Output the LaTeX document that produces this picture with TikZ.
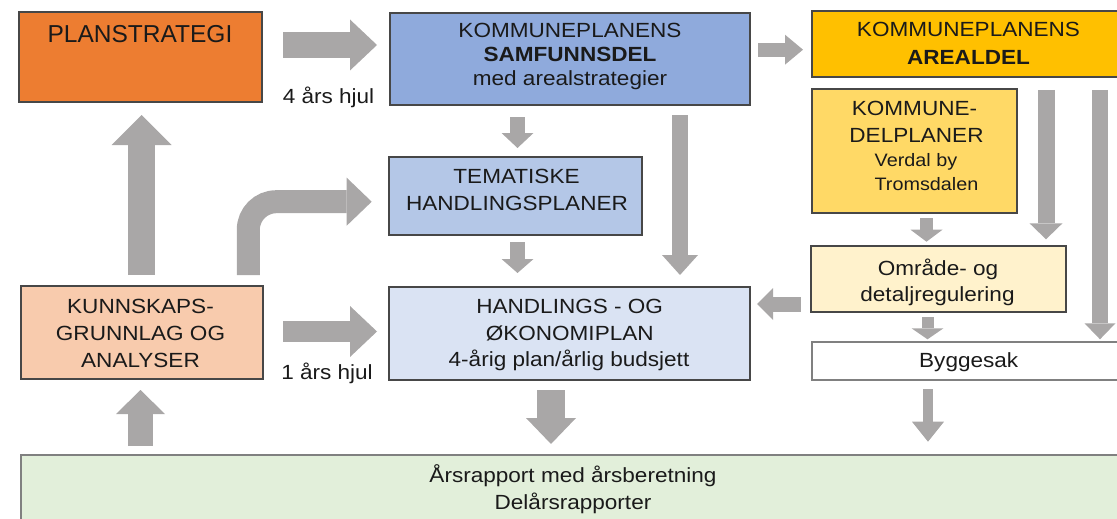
\documentclass[tikz,border=0pt]{standalone}
\usepackage{fontspec}
\setmainfont{Liberation Sans}
\newfontfamily\wfont[FakeStretch=1.1]{Liberation Sans}
\usetikzlibrary{arrows.meta,calc}
\definecolor{arrowgray}{HTML}{A9A7A7}
\definecolor{cplan}{HTML}{ED7D31}
\definecolor{csamf}{HTML}{8FAADC}
\definecolor{ctema}{HTML}{B4C7E7}
\definecolor{chandl}{HTML}{DAE3F3}
\definecolor{ckunn}{HTML}{F8CBAD}
\definecolor{careal}{HTML}{FFC000}
\definecolor{cdelpl}{HTML}{FFD966}
\definecolor{comr}{HTML}{FFF2CC}
\definecolor{cgreen}{HTML}{E2EFDA}
\definecolor{ctext}{HTML}{1A1A1A}
\begin{document}
\begin{tikzpicture}[x=1pt,y=-1pt,
  boxst/.style={draw=black!72, line width=1.1pt, inner sep=0pt, outer sep=0pt},
  lboxst/.style={draw=black!50, line width=1.1pt, inner sep=0pt, outer sep=0pt},
  txt/.style={inner sep=0pt, anchor=base, text=ctext, font=\wfont\fontsize{20.5}{24}\selectfont},
  btxt/.style={txt, font=\wfont\bfseries\fontsize{20.5}{24}\selectfont},
  stxt/.style={txt, font=\wfont\fontsize{18}{22}\selectfont},
  barrow/.style n args={3}{line width=#1pt, arrowgray, -{Triangle[width=#2pt, length=#3pt, line width=0pt]}}
]
\useasboundingbox (0,0) rectangle (1117,519);

% boxes
\node[boxst, fill=cplan, minimum width=243pt, minimum height=90pt] (plan) at (140.5,57) {};
\node[boxst, fill=csamf, minimum width=360pt, minimum height=92pt] (samf) at (570,59) {};
\node[boxst, fill=careal, minimum width=313pt, minimum height=66pt] (areal) at (968.5,44) {};
\node[boxst, fill=cdelpl, minimum width=205pt, minimum height=124pt] (delpl) at (914.5,151) {};
\node[boxst, fill=comr, minimum width=255pt, minimum height=66pt] (omr) at (938.5,279) {};
\node[lboxst, fill=white, minimum width=313pt, minimum height=38pt] (bygg) at (968.5,361) {};
\node[boxst, fill=ctema, minimum width=253pt, minimum height=78pt] (tema) at (515.5,196) {};
\node[boxst, fill=chandl, minimum width=361pt, minimum height=93pt] (handl) at (569.5,333.5) {};
\node[boxst, fill=ckunn, minimum width=242pt, minimum height=93pt] (kunn) at (142,332.5) {};
\node[lboxst, fill=cgreen, minimum width=1104pt, minimum height=80pt] (green) at (573,495) {};

% texts
\node[txt, font=\fontsize{24.5}{28}\selectfont] (tplan) at (140,42.3) {PLANSTRATEGI};
\node[txt] (tsamf1) at (570,37.7) {KOMMUNEPLANENS};
\node[btxt] (tsamf2) at (570,61.7) {SAMFUNNSDEL};
\node[txt] (tsamf3) at (570,85) {med arealstrategier};
\node[txt] (tareal1) at (968.5,36.7) {KOMMUNEPLANENS};
\node[btxt] (tareal2) at (968.5,64.3) {AREALDEL};
\node[txt] (tdel1) at (914.5,115) {KOMMUNE-};
\node[txt] (tdel2) at (916.5,142.7) {DELPLANER};
\node[stxt] (tdel3) at (916,166.7) {Verdal by};
\node[stxt] (tdel4) at (926.5,190.7) {Tromsdalen};
\node[txt] (tomr1) at (938,275) {Område- og};
\node[txt] (tomr2) at (937.5,301.7) {detaljregulering};
\node[txt] (tbygg) at (968.7,367.3) {Byggesak};
\node[txt] (ttema1) at (516.5,183.3) {TEMATISKE};
\node[txt] (ttema2) at (517,210) {HANDLINGSPLANER};
\node[txt] (thandl1) at (569.7,313.3) {HANDLINGS - OG};
\node[txt] (thandl2) at (569.7,340.7) {ØKONOMIPLAN};
\node[txt] (thandl3) at (569,366) {4-årig plan/årlig budsjett};
\node[txt] (tkunn1) at (140.5,313.3) {KUNNSKAPS-};
\node[txt] (tkunn2) at (140.5,340) {GRUNNLAG OG};
\node[txt] (tkunn3) at (140.5,367.3) {ANALYSER};
\node[txt] (tgreen1) at (573,482.7) {Årsrapport med årsberetning};
\node[txt] (tgreen2) at (573,509.3) {Delårsrapporter};
\node[txt] (thjul4) at (328.5,103.3) {4 års hjul};
\node[txt] (thjul1) at (327,379.3) {1 års hjul};

% arrows
\coordinate (c1) at ([yshift=12]plan.east);
\draw[barrow={26}{51}{27}, shorten <=21pt, shorten >=13pt] (c1) -- (c1 -| samf.west);
\coordinate (c2) at ([yshift=9.3]samf.east);
\draw[barrow={14}{30}{18}, shorten <=8pt, shorten >=9pt] (c2) -- (c2 -| areal.west);
\coordinate (c3) at ([xshift=-52.5]samf.south);
\draw[barrow={15}{32}{15}, shorten <=12pt, shorten >=9pt] (c3) -- (c3 |- tema.north);
\coordinate (c4) at ([xshift=2]tema.south);
\draw[barrow={15}{32}{14}, shorten <=7pt, shorten >=14pt] (c4) -- (c4 |- handl.north);
\coordinate (c5) at ([xshift=110]samf.south);
\draw[barrow={16}{36}{20}, shorten <=10pt, shorten >=12pt] (c5) -- (c5 |- handl.north);
\coordinate (c6) at ([xshift=-0.5]kunn.north);
\draw[barrow={27}{60}{30}, shorten <=11pt, shorten >=13pt] (c6) -- (c6 |- plan.south);
\coordinate (c7) at ([xshift=106.3]kunn.north);
\coordinate (c7b) at ([yshift=-5.7]tema.west);
\draw[barrow={23}{48}{25}, rounded corners=28pt, shorten <=11pt, shorten >=17.3pt] (c7) |- (c7b);
\coordinate (c8) at ([yshift=1]kunn.east);
\draw[barrow={21}{51}{27}, shorten <=20pt, shorten >=12pt] (c8) -- (c8 -| handl.west);
\coordinate (c9) at ([xshift=-1.5]kunn.south);
\draw[barrow={25}{49}{24}, shorten <=9pt, shorten >=11pt] (c9 |- green.north) -- (c9);
\coordinate (c10) at ([xshift=-18.5]handl.south);
\draw[barrow={28}{50}{26}, shorten <=10pt, shorten >=11pt] (c10) -- (c10 |- green.north);
\coordinate (c11) at ([xshift=107.5]omr.north);
\draw[barrow={17}{33}{16}, shorten <=13pt, shorten >=6.7pt] (c11 |- areal.south) -- (c11);
\coordinate (c12) at ([xshift=131.5]areal.south);
\draw[barrow={16}{31}{16}, shorten <=13pt, shorten >=2.7pt] (c12) -- (c12 |- bygg.north);
\coordinate (c13) at ([xshift=12]delpl.south);
\draw[barrow={13}{32}{12}, shorten <=5pt, shorten >=4.3pt] (c13) -- (c13 |- omr.north);
\coordinate (c14) at ([yshift=-25]omr.west);
\draw[barrow={15}{32}{16}, shorten <=10.3pt, shorten >=7pt] (c14) -- (c14 -| handl.east);
\coordinate (c15) at ([xshift=-11]omr.south);
\draw[barrow={12}{32}{11}, shorten <=5.3pt, shorten >=2.7pt] (c15) -- (c15 |- bygg.north);
\coordinate (c16) at ([xshift=-40.5]bygg.south);
\draw[barrow={10}{32}{20}, shorten <=9pt, shorten >=13.3pt] (c16) -- (c16 |- green.north);
\end{tikzpicture}
\end{document}
